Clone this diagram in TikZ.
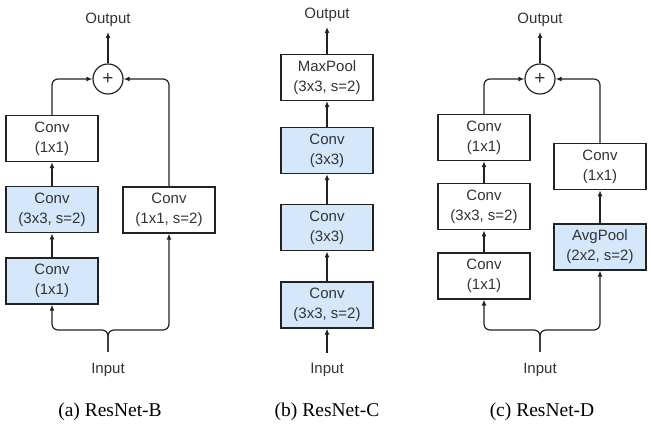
\documentclass[tikz,border=0pt]{standalone}
\usepackage{fontspec}
\setmainfont{Liberation Serif}
\setsansfont{Liberation Sans}
\usetikzlibrary{arrows.meta,positioning,calc}
\definecolor{ink}{HTML}{222222}
\definecolor{txt}{HTML}{333333}
\definecolor{blueLight}{HTML}{D5E7FA}

\begin{document}
\begin{tikzpicture}[
    x=1pt, y=-1pt,
    node distance=24pt,
    font=\sffamily\fontsize{15}{20}\selectfont,
    box/.style={draw=ink, line width=1.2pt, fill=white, minimum height=46pt, minimum width=92pt, inner sep=0pt, align=center, text=txt},
    bluebox/.style={box, fill=blueLight},
    sum/.style={draw=ink, line width=1.2pt, circle, minimum size=30pt, inner sep=0pt, text=txt, font=\sffamily\fontsize{19}{20}\selectfont},
    iotext/.style={text=txt, inner sep=5pt},
    caption/.style={font=\rmfamily\fontsize{19.5}{22}\selectfont, text=black},
    arrow/.style={-{Latex[length=6pt,width=5pt]}, line width=1.2pt, draw=ink}
  ]
    \useasboundingbox (0,0) rectangle (651,427);

    % (a) ResNet-B
    \node[bluebox] (bconv1) at (52,281) {Conv\\(1x1)};
    \node[bluebox, above=of bconv1] (bconv2) {Conv\\(3x3, s=2)};
    \node[box, above=of bconv2] (bconv3) {Conv\\(1x1)};
    \node[box] (bside) at (169,210) {Conv\\(1x1, s=2)};
    \node[sum] (bsum) at (108,79) {+};
    \node[iotext] (bout) at (108,20) {Output};
    \node[iotext] (bin) at (108,370) {Input};
    \coordinate (bstem) at (108,352);
    \node[caption] (bcap) at (110,412) {(a) ResNet-B};

    \draw[arrow] (bconv1) -- (bconv2);
    \draw[arrow] (bconv2) -- (bconv3);
    \draw[arrow, rounded corners=6pt] (bconv3.north) |- (bsum.west);
    \draw[arrow, rounded corners=6pt] (bside.north) |- (bsum.east);
    \draw[arrow] (bsum.north) -- (bout.south);
    \draw[arrow, rounded corners=6pt] (bstem) -- ++(0,-22) -| (bconv1.south);
    \draw[arrow, rounded corners=6pt] (bstem) -- ++(0,-22) -| (bside.south);

    % (b) ResNet-C
    \node[bluebox] (cconv1) at (327,305) {Conv\\(3x3, s=2)};
    \node[bluebox, above=30pt of cconv1] (cconv2) {Conv\\(3x3)};
    \node[bluebox, above=30pt of cconv2] (cconv3) {Conv\\(3x3)};
    \node[box, above=26pt of cconv3] (cpool) {MaxPool\\(3x3, s=2)};
    \node[iotext] (cout) at (327,15) {Output};
    \node[iotext] (cin) at (327,370) {Input};
    \coordinate (cstem) at (327,353);
    \node[caption] (ccap) at (327,412) {(b) ResNet-C};

    \draw[arrow] (cstem) -- (cconv1.south);
    \draw[arrow] (cconv1) -- (cconv2);
    \draw[arrow] (cconv2) -- (cconv3);
    \draw[arrow] (cconv3) -- (cpool);
    \draw[arrow] (cpool.north) -- (cout.south);

    % (c) ResNet-D
    \node[box] (dconv1) at (484,276) {Conv\\(1x1)};
    \node[box, above=22pt of dconv1] (dconv2) {Conv\\(3x3, s=2)};
    \node[box, above=22pt of dconv2] (dconv3) {Conv\\(1x1)};
    \node[bluebox] (dpool) at (600,247) {AvgPool\\(2x2, s=2)};
    \node[box, above=33pt of dpool] (dside) {Conv\\(1x1)};
    \node[sum] (dsum) at (540,79) {+};
    \node[iotext] (dout) at (540,20) {Output};
    \node[iotext] (din) at (540,370) {Input};
    \coordinate (dstem) at (540,352);
    \node[caption] (dcap) at (542,412) {(c) ResNet-D};

    \draw[arrow] (dconv1) -- (dconv2);
    \draw[arrow] (dconv2) -- (dconv3);
    \draw[arrow] (dpool) -- (dside);
    \draw[arrow, rounded corners=6pt] (dconv3.north) |- (dsum.west);
    \draw[arrow, rounded corners=6pt] (dside.north) |- (dsum.east);
    \draw[arrow] (dsum.north) -- (dout.south);
    \draw[arrow, rounded corners=6pt] (dstem) -- ++(0,-22) -| (dconv1.south);
    \draw[arrow, rounded corners=6pt] (dstem) -- ++(0,-22) -| (dpool.south);
\end{tikzpicture}
\end{document}
